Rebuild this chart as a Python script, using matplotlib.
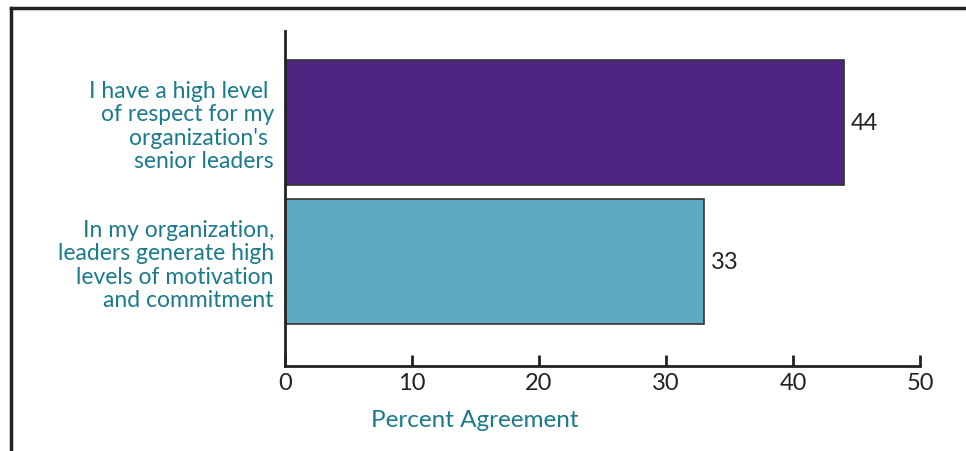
import matplotlib
matplotlib.use("Agg")
import matplotlib.pyplot as plt
from matplotlib.lines import Line2D

categories = [
    "In my organization,\nleaders generate high\nlevels of motivation\nand commitment",
    "I have a high level \nof respect for my\norganization's \nsenior leaders",
]
values = [33, 44]
colors = ["#5EA9C3", "#4F2582"]
xticks = [0, 10, 20, 30, 40, 50]
xlabel = "Percent Agreement"

W, H = 966, 452
fig = plt.figure(figsize=(W / 100, H / 100), dpi=100)
ax = fig.add_axes([285 / W, 1 - 367 / H, (920 - 285) / W, (367 - 32) / H])

ypos = list(range(len(categories)))
bars = ax.barh(ypos, values, height=0.9, color=colors, edgecolor="#333333", linewidth=1.2)
ax.set_xlim(0, 50)
ax.set_ylim(-0.752, 1.658)

label_color = "#1A7A8E"
font = "Lato"
ax.set_yticks(ypos)
ax.set_yticklabels(categories, fontsize=16.5, color=label_color, family=font,
                   linespacing=1.13, ha="right")
ax.tick_params(axis="y", length=0, pad=8)
ax.set_xticks(xticks)
ax.set_xticklabels([str(t) for t in xticks], fontsize=17, color="#222222", family=font)
ax.tick_params(axis="x", direction="in", length=8, width=2, color="#222222", pad=4)

for s in ["top", "right"]:
    ax.spines[s].set_visible(False)
for s in ["left", "bottom"]:
    ax.spines[s].set_linewidth(2)
    ax.spines[s].set_color("#222222")

for b, v in zip(bars, values):
    ax.text(b.get_width() + 0.55, b.get_y() + b.get_height() / 2, str(v),
            va="center", ha="left", fontsize=17, color="#222222", family=font)

fig.text(475 / W, 1 - 421 / H, xlabel, ha="center", va="center", fontsize=17.5,
         color=label_color, family=font)

# outer frame
fig.add_artist(Line2D([10.5 / W, 10.5 / W], [0, 1 - 8.5 / H], transform=fig.transFigure,
                      color="#222222", linewidth=2.5))
fig.add_artist(Line2D([10.5 / W, 1], [1 - 8.5 / H, 1 - 8.5 / H], transform=fig.transFigure,
                      color="#222222", linewidth=2.5))

fig.savefig("out.png", dpi=100)
